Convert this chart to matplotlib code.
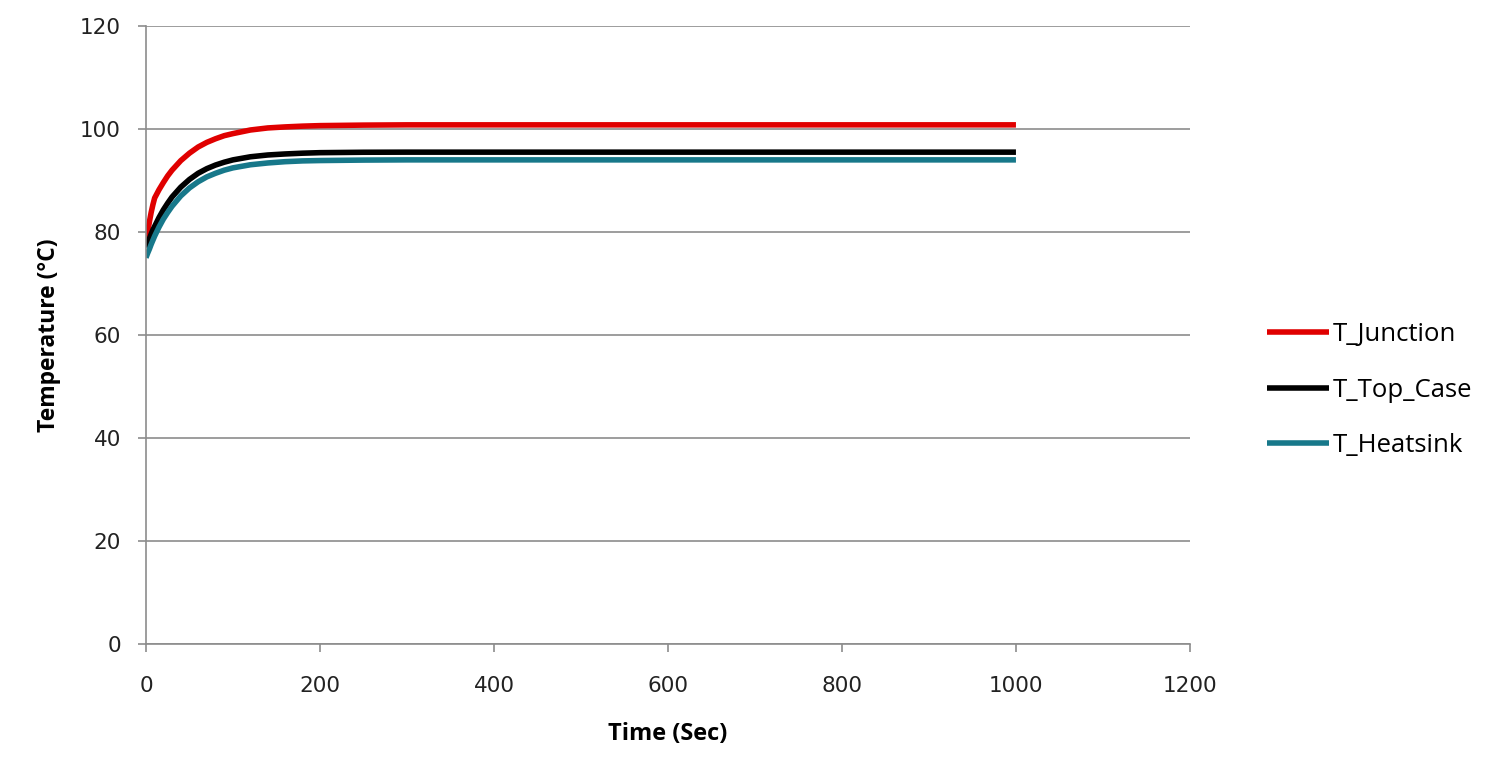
import matplotlib
matplotlib.use("Agg")
from matplotlib import pyplot as plt

# time (sec) and temperatures (°C)
time = [0, 2, 4, 6, 8, 10, 15, 20, 25, 30, 40, 50, 60, 70, 80, 90, 100, 120, 140, 160, 180, 200, 250, 300, 400, 600, 800, 1000]
t_junction = [77.5, 80.0, 82.0, 83.8, 85.3, 86.6, 88.2, 89.6, 90.9, 92.0, 93.85, 95.3, 96.5, 97.4, 98.1, 98.7, 99.1, 99.8,
              100.2, 100.4, 100.55, 100.65, 100.75, 100.8, 100.8, 100.8, 100.8, 100.8]
t_top_case = [77.0, 77.9, 78.7, 79.6, 80.4, 81.1, 82.8, 84.3, 85.6, 86.8, 88.7, 90.2, 91.4, 92.3, 93.0, 93.55, 94.0, 94.6,
              94.95, 95.15, 95.3, 95.4, 95.48, 95.5, 95.5, 95.5, 95.5, 95.5]
t_heatsink = [75.0, 75.9, 76.7, 77.6, 78.4, 79.2, 80.95, 82.5, 83.8, 85.0, 87.0, 88.55, 89.75, 90.7, 91.4, 92.0, 92.45, 93.05,
              93.4, 93.65, 93.8, 93.87, 93.96, 94.0, 94.0, 94.0, 94.0, 94.0]

fig = plt.figure(figsize=(15, 7.75), dpi=100)
ax = fig.add_axes([0.0973, 0.169, 0.696, 0.7975])

ax.plot(time, t_junction, color='#e00000', lw=4.0, label='T_Junction', solid_capstyle='butt', solid_joinstyle='round')
ax.plot(time, t_top_case, color='#000000', lw=4.0, label='T_Top_Case', solid_capstyle='butt', solid_joinstyle='round')
ax.plot(time, t_heatsink, color='#17788a', lw=4.0, label='T_Heatsink', solid_capstyle='butt', solid_joinstyle='round')

ax.set_xlim(0, 1200)
ax.set_ylim(0, 120)
ax.set_xticks(range(0, 1201, 200))
ax.set_yticks(range(0, 121, 20))
ax.grid(axis='y', color='#8c8c8c', lw=1.2)
ax.set_axisbelow(True)
for s in ['top', 'right']:
    ax.spines[s].set_visible(False)
for s in ['left', 'bottom']:
    ax.spines[s].set_color('#8c8c8c')
    ax.spines[s].set_linewidth(1.2)
ax.tick_params(colors='#8c8c8c', width=1.2, length=6, labelsize=15.5, labelcolor='#222222')
ax.tick_params(axis='x', pad=17)
ax.tick_params(axis='y', pad=12)
for lab in ax.get_xticklabels() + ax.get_yticklabels():
    lab.set_family('DejaVu Sans')

ax.set_xlabel('Time (Sec)', fontsize=17, fontweight='bold', family='Open Sans', labelpad=19)
ax.set_ylabel('Temperature (°C)', fontsize=16.5, fontweight='bold', family='Open Sans', labelpad=14)

ax.legend(loc='center left', bbox_to_anchor=(1.074, 0.411), frameon=False,
          prop={'family': 'Open Sans', 'size': 18.5}, handlelength=2.4,
          handletextpad=0.15, labelspacing=1.17, borderpad=0, borderaxespad=0)

fig.savefig('out.png', dpi=100)
